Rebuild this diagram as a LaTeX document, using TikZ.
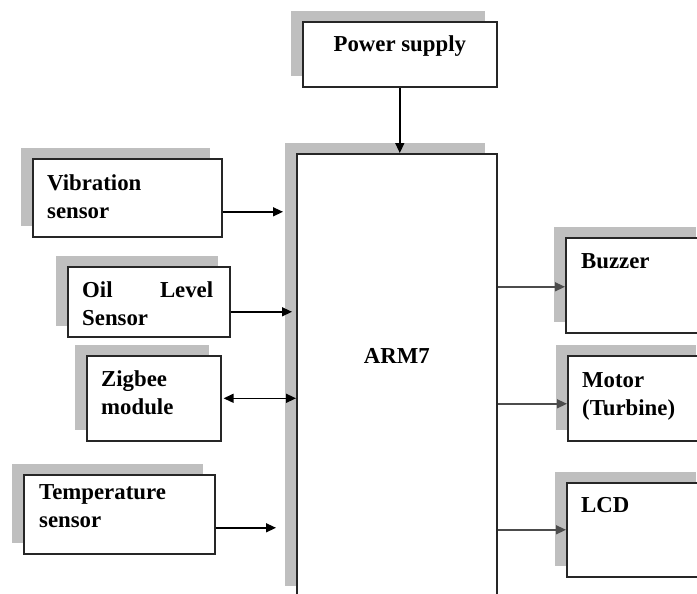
\documentclass[tikz,border=0pt]{standalone}
\usepackage{fontspec}
\setmainfont{Liberation Serif}
\usepackage{tikz}
\usetikzlibrary{positioning,shadows,arrows.meta}

\tikzset{
    blk/.style={draw=black!85, line width=1.6pt, fill=white, inner sep=0pt, anchor=north west,
        general shadow={fill=black!25, shadow xshift=-12pt, shadow yshift=11pt}},
    txt/.style={font=\fontsize{22.8}{28}\selectfont\bfseries, inner sep=0pt, anchor=base west, align=left},
    sig/.style={-{Triangle[length=10pt,width=9pt]}, line width=1.4pt},
    outsig/.style={sig, draw=black!70},
}

\begin{document}
\begin{tikzpicture}[x=1pt,y=-1pt]
    \useasboundingbox (0,0) rectangle (697,594);
    \clip (0,0) rectangle (697,594);

    \node[blk, minimum width=194pt, minimum height=65pt] (ps) at (302,21) {};
    \node[blk, minimum width=200pt, minimum height=443pt] (arm) at (296,153) {};
    \node[blk, minimum width=189pt, minimum height=78pt] (vib) at (32,158) {};
    \node[blk, minimum width=162pt, minimum height=70pt] (oil) at (67,266) {};
    \node[blk, minimum width=134pt, minimum height=85pt] (zig) at (86,355) {};
    \node[blk, minimum width=191pt, minimum height=79pt] (tmp) at (23,474) {};
    \node[blk, minimum width=142pt, minimum height=95pt] (buz) at (565,237) {};
    \node[blk, minimum width=140pt, minimum height=85pt] (mot) at (567,355) {};
    \node[blk, minimum width=141pt, minimum height=94pt] (lcd) at (566,482) {};

    % two-line texts sit on the baseline of their last line
    \node[txt, anchor=base] (ps-t) at ([shift={(0,31)}]ps.north) {Power supply};
    \node[txt, anchor=base] (arm-t) at ([shift={(0,210)}]arm.north) {ARM7};
    \node[txt] (vib-t) at ([shift={(15,60)}]vib.north west) {Vibration\\sensor};
    \node[txt, text width=131pt] (oil-t) at ([shift={(15,31)}]oil.north west) {Oil\hfill Level\\Sensor};
    \node[txt] (zig-t) at ([shift={(15,59)}]zig.north west) {Zigbee\\module};
    \node[txt] (tmp-t) at ([shift={(16,53)}]tmp.north west) {Temperature\\sensor};
    \node[txt] (buz-t) at ([shift={(16,31)}]buz.north west) {Buzzer};
    \node[txt] (mot-t) at ([shift={(15,60)}]mot.north west) {Motor\\(Turbine)};
    \node[txt] (lcd-t) at ([shift={(15,30)}]lcd.north west) {LCD};

    \draw[sig] (ps.south) -- (ps.south |- arm.north);
    \draw[sig, shorten >=13pt] ([yshift=-14pt]vib.east) -- ([yshift=-14pt]vib.east -| arm.west);
    \draw[sig, shorten >=4pt] ([yshift=-10pt]oil.east) -- ([yshift=-10pt]oil.east -| arm.west);
    \draw[{Triangle[length=10pt,width=9pt]}-{Triangle[length=10pt,width=9pt]}, line width=1.4pt, shorten <=2pt] (zig.east) -- (zig.east -| arm.west);
    \draw[sig, shorten >=20pt] ([yshift=-13.5pt]tmp.east) -- ([yshift=-13.5pt]tmp.east -| arm.west);

    \draw[outsig] ([yshift=-1.5pt]buz.west -| arm.east) -- ([yshift=-1.5pt]buz.west);
    \draw[outsig] ([yshift=-5.5pt]mot.west -| arm.east) -- ([yshift=-5.5pt]mot.west);
    \draw[outsig] (lcd.west -| arm.east) -- (lcd.west);
\end{tikzpicture}
\end{document}
